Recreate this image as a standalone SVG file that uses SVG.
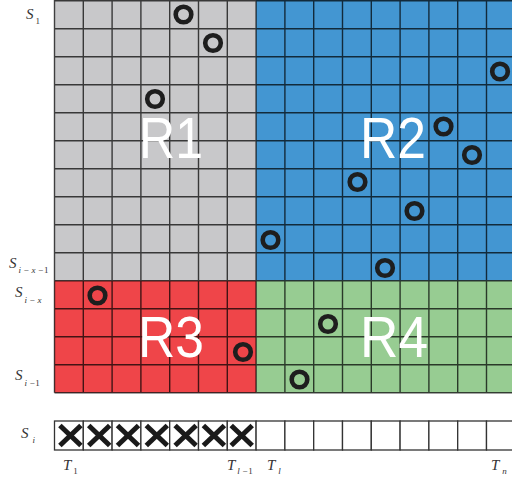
<svg xmlns="http://www.w3.org/2000/svg" width="512" height="478" viewBox="0 0 512 478">
<defs>
<style>
.lbl{font-family:"Liberation Serif","Times New Roman",serif;font-style:italic;fill:#333;}
.big{font-size:15px;}
.sub{font-size:9px;}
.num{font-style:normal;}
.reg{font-family:"Liberation Sans",Arial,sans-serif;font-size:58px;fill:#fff;}
.grid{stroke:#000;stroke-opacity:0.72;stroke-width:1.4;fill:none;}
.ring{fill:none;stroke:#1e1e1e;stroke-width:4.6;}
.x{stroke:#1a1a1a;stroke-width:5;stroke-linecap:butt;}
.cell{fill:#fff;stroke:#333;stroke-width:1.3;}
</style>
<circle id="r" r="7.8" class="ring"/>
<g id="xm"><line x1="-10.5" y1="-10" x2="10.5" y2="10" class="x"/><line x1="-10.5" y1="10" x2="10.5" y2="-10" class="x"/></g>
</defs>
<rect width="512" height="478" fill="#fff"/>
<g id="R1"><rect x="54.5" y="0" width="201.6" height="280.7" fill="#c8c8ca"/></g>
<g id="R2"><rect x="256.1" y="0" width="255.9" height="280.7" fill="#4396d2"/></g>
<g id="R3"><rect x="54.5" y="280.7" width="201.6" height="112" fill="#ef4549"/></g>
<g id="R4"><rect x="256.1" y="280.7" width="255.9" height="112" fill="#97cc92"/></g>
<g id="gridlines">
<path class="grid" d="M54.5 0V392.7M83.3 0V392.7M112.1 0V392.7M140.9 0V392.7M169.7 0V392.7M198.5 0V392.7M227.3 0V392.7M256.1 0V392.7M284.9 0V392.7M313.7 0V392.7M342.5 0V392.7M371.3 0V392.7M400.1 0V392.7M428.9 0V392.7M457.7 0V392.7M486.5 0V392.7
M54.5 0.7H512M54.5 28.7H512M54.5 56.7H512M54.5 84.7H512M54.5 112.7H512M54.5 140.7H512M54.5 168.7H512M54.5 196.7H512M54.5 224.7H512M54.5 252.7H512M54.5 280.7H512M54.5 308.7H512M54.5 336.7H512M54.5 364.7H512M54.5 392.7H512"/>
</g>
<g id="labels-regions">
<text class="reg" x="139" y="158" textLength="64" lengthAdjust="spacingAndGlyphs">R1</text>
<text class="reg" x="360" y="158" textLength="66" lengthAdjust="spacingAndGlyphs">R2</text>
<text class="reg" x="138" y="357" textLength="66" lengthAdjust="spacingAndGlyphs">R3</text>
<text class="reg" x="360" y="357" textLength="68" lengthAdjust="spacingAndGlyphs">R4</text>
</g>
<g id="rings">
<use href="#r" x="183.5" y="14.5"/>
<use href="#r" x="213" y="43"/>
<use href="#r" x="500" y="71.5"/>
<use href="#r" x="155" y="99"/>
<use href="#r" x="443.5" y="126.5"/>
<use href="#r" x="472" y="155"/>
<use href="#r" x="357.5" y="182"/>
<use href="#r" x="414.5" y="211"/>
<use href="#r" x="270.5" y="240"/>
<use href="#r" x="385" y="268"/>
<use href="#r" x="97.5" y="295.5"/>
<use href="#r" x="328" y="324"/>
<use href="#r" x="243" y="352"/>
<use href="#r" x="299.5" y="379.5"/>
</g>
<g id="row-si">
<rect class="cell" x="54.5" y="421" width="28.8" height="29"/>
<rect class="cell" x="83.3" y="421" width="28.8" height="29"/>
<rect class="cell" x="112.1" y="421" width="28.8" height="29"/>
<rect class="cell" x="140.9" y="421" width="28.8" height="29"/>
<rect class="cell" x="169.7" y="421" width="28.8" height="29"/>
<rect class="cell" x="198.5" y="421" width="28.8" height="29"/>
<rect class="cell" x="227.3" y="421" width="28.8" height="29"/>
<rect class="cell" x="256.1" y="421" width="28.8" height="29"/>
<rect class="cell" x="284.9" y="421" width="28.8" height="29"/>
<rect class="cell" x="313.7" y="421" width="28.8" height="29"/>
<rect class="cell" x="342.5" y="421" width="28.8" height="29"/>
<rect class="cell" x="371.3" y="421" width="28.8" height="29"/>
<rect class="cell" x="400.1" y="421" width="28.8" height="29"/>
<rect class="cell" x="428.9" y="421" width="28.8" height="29"/>
<rect class="cell" x="457.7" y="421" width="28.8" height="29"/>
<rect class="cell" x="486.5" y="421" width="28.8" height="29"/>
<use href="#xm" x="70.4" y="435.5"/>
<use href="#xm" x="99.2" y="435.5"/>
<use href="#xm" x="128" y="435.5"/>
<use href="#xm" x="156.8" y="435.5"/>
<use href="#xm" x="185.6" y="435.5"/>
<use href="#xm" x="213.9" y="435.5"/>
<use href="#xm" x="241.7" y="435.5"/>
</g>
<g id="axis-labels">
<text class="lbl" x="26" y="19"><tspan class="big">S</tspan><tspan class="sub num" dx="2" dy="5">1</tspan></text>
<text class="lbl" x="9" y="268"><tspan class="big">S</tspan><tspan class="sub" dx="2" dy="5">i − x −</tspan><tspan class="sub num">1</tspan></text>
<text class="lbl" x="15" y="297"><tspan class="big">S</tspan><tspan class="sub" dx="2" dy="6">i − x</tspan></text>
<text class="lbl" x="15" y="380"><tspan class="big">S</tspan><tspan class="sub" dx="2" dy="6">i −</tspan><tspan class="sub num">1</tspan></text>
<text class="lbl" x="21" y="438"><tspan class="big">S</tspan><tspan class="sub" dx="4" dy="5">i</tspan></text>
<text class="lbl" x="63" y="470"><tspan class="big">T</tspan><tspan class="sub num" dx="2" dy="4">1</tspan></text>
<text class="lbl" x="227" y="470"><tspan class="big">T</tspan><tspan class="sub" dx="2" dy="4">l −</tspan><tspan class="sub num">1</tspan></text>
<text class="lbl" x="267" y="470"><tspan class="big">T</tspan><tspan class="sub" dx="3" dy="4">l</tspan></text>
<text class="lbl" x="491" y="470"><tspan class="big">T</tspan><tspan class="sub" dx="3" dy="4">n</tspan></text>
</g>
</svg>
